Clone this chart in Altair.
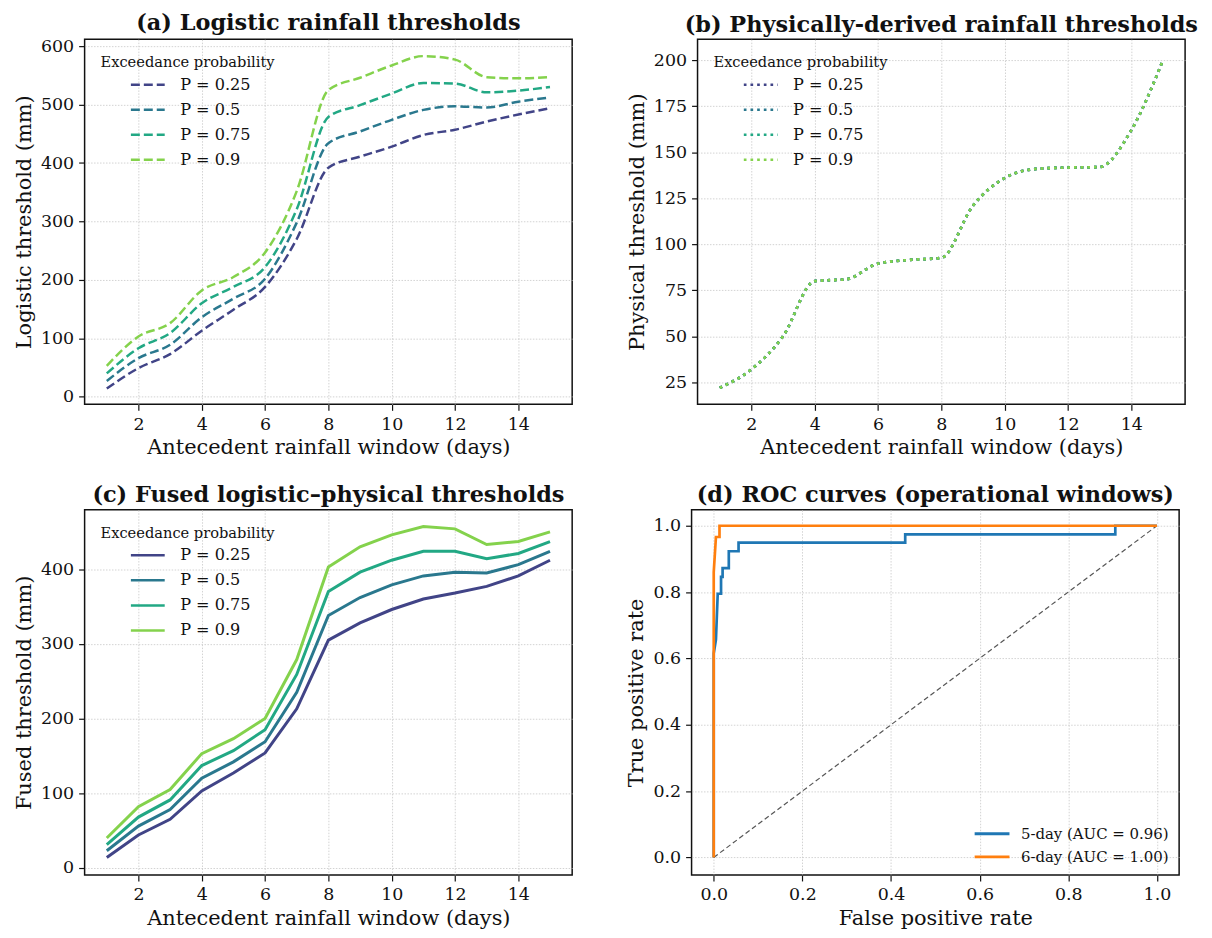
import altair as alt
import pandas as pd

FONT = "DejaVu Serif"

days = list(range(1, 16))
prob_labels = ["P = 0.25", "P = 0.5", "P = 0.75", "P = 0.9"]
prob_colors = ["#414487", "#2a788e", "#22a884", "#84d24c"]

# (a) logistic thresholds (mm)
logit_p25 = [14, 49, 73, 113, 149, 188, 270, 392, 411, 428, 448, 457, 471, 483, 494]
logit_p50 = [27, 66, 89, 136, 168, 202, 298, 434, 454, 474, 491, 497, 495, 505, 512]
logit_p75 = [40, 83, 109, 160, 188, 222, 321, 479, 499, 519, 537, 536, 521, 524, 530]
logit_p90 = [53, 103, 126, 182, 205, 247, 352, 525, 546, 567, 583, 577, 547, 545, 547]

# (b) physically-derived thresholds (mm) - identical for all probabilities
phys = [22, 32, 50, 80, 81, 89.5, 91.5, 92.6, 121, 136, 141, 141.7, 142, 162, 200]

# (c) fused thresholds (mm)
fused_p25 = [14, 44, 65, 103, 127, 154, 213, 305, 328, 346, 360, 368, 377, 391, 412]
fused_p50 = [23, 56, 78, 120, 142, 169, 235, 338, 362, 379, 391, 396, 395, 406, 424]
fused_p75 = [31, 68, 91, 137, 157, 185, 259, 370, 396, 412, 424, 424, 414, 421, 437]
fused_p90 = [40, 82, 105, 153, 173, 200, 279, 403, 430, 446, 457, 454, 433, 437, 450]

# (d) ROC curves
roc_labels = ["5-day (AUC = 0.96)", "6-day (AUC = 1.00)"]
roc_colors = ["#1f77b4", "#ff7f0e"]
fpr_5day = [0.0, 0.0, 0.005, 0.009, 0.0165, 0.0165, 0.02, 0.02, 0.034, 0.034, 0.056, 0.056, 0.432, 0.432, 0.906, 0.906, 1.0]
tpr_5day = [0.0, 0.615, 0.657, 0.795, 0.795, 0.846, 0.846, 0.872, 0.872, 0.923, 0.923, 0.949, 0.949, 0.974, 0.974, 1.0, 1.0]
fpr_6day = [0.0, 0.0, 0.005, 0.013, 0.013, 1.0]
tpr_6day = [0.0, 0.86, 0.966, 0.966, 1.0, 1.0]
chance_x = [0.0, 1.0]
chance_y = [0.0, 1.0]


def long_frame(series_list):
    rows = []
    for lab, vals in zip(prob_labels, series_list):
        for d, v in zip(days, vals):
            rows.append({"day": d, "value": v, "P": lab})
    return pd.DataFrame(rows)


df_a = long_frame([logit_p25, logit_p50, logit_p75, logit_p90])
df_b = long_frame([phys, phys, phys, phys])
df_c = long_frame([fused_p25, fused_p50, fused_p75, fused_p90])

roc_rows = []
for lab, fx, ty in zip(roc_labels, [fpr_5day, fpr_6day], [tpr_5day, tpr_6day]):
    for i, (a, b) in enumerate(zip(fx, ty)):
        roc_rows.append({"fpr": a, "tpr": b, "curve": lab, "i": i})
df_d = pd.DataFrame(roc_rows)
df_diag = pd.DataFrame({"fpr": chance_x, "tpr": chance_y})

W, H = 490, 367
TITLE_SIZE = 22.5


def ptitle(t):
    return alt.TitleParams(t, font=FONT, fontSize=TITLE_SIZE, fontWeight="bold",
                           anchor="middle", frame="group", offset=3, color="#111")


def prob_legend(dash):
    return alt.Legend(orient="top-left", offset=12, padding=4,
                      title="Exceedance probability", titleFont=FONT,
                      titleFontSize=14.7, titleFontWeight="normal", titleColor="#111",
                      titlePadding=7, labelFont=FONT, labelFontSize=16.2, labelColor="#111",
                      symbolType="stroke", symbolSize=1156, symbolStrokeWidth=2.5,
                      symbolDash=dash, symbolOffset=29, labelOffset=14,
                      clipHeight=16, rowPadding=8.2)


x_days = alt.X("day:Q", title="Antecedent rainfall window (days)",
               scale=alt.Scale(domain=[0.3, 15.7], nice=False, zero=False),
               axis=alt.Axis(values=[2, 4, 6, 8, 10, 12, 14], titlePadding=4))

color_prob = lambda dash: alt.Color("P:N", scale=alt.Scale(domain=prob_labels, range=prob_colors),
                                    legend=prob_legend(dash))

panel_a = alt.Chart(df_a).mark_line(strokeWidth=2.5, strokeDash=[9, 4], interpolate="monotone").encode(
    x=x_days,
    y=alt.Y("value:Q", title="Logistic threshold (mm)",
            scale=alt.Scale(domain=[-13, 612], nice=False, zero=False),
            axis=alt.Axis(values=[0, 100, 200, 300, 400, 500, 600], titlePadding=6)),
    color=color_prob([9, 4]),
).properties(width=W, height=H, title=ptitle("(a) Logistic rainfall thresholds"))

panel_b = alt.Chart(df_b).mark_line(strokeWidth=2.7, strokeDash=[2.7, 4], interpolate="monotone").encode(
    x=x_days,
    y=alt.Y("value:Q", title="Physical threshold (mm)",
            scale=alt.Scale(domain=[13, 211.5], nice=False, zero=False),
            axis=alt.Axis(values=[25, 50, 75, 100, 125, 150, 175, 200], titlePadding=6)),
    color=color_prob([2.7, 4]),
).properties(width=W, height=H, title=ptitle("(b) Physically-derived rainfall thresholds"))

panel_c = alt.Chart(df_c).mark_line(strokeWidth=3).encode(
    x=x_days,
    y=alt.Y("value:Q", title="Fused threshold (mm)",
            scale=alt.Scale(domain=[-9.5, 479.5], nice=False, zero=False),
            axis=alt.Axis(values=[0, 100, 200, 300, 400], titlePadding=6)),
    color=alt.Color("P:N", scale=alt.Scale(domain=prob_labels, range=prob_colors),
                    legend=prob_legend([1, 0])),
).properties(width=W, height=H, title=ptitle("(c) Fused logistic\u2013physical thresholds"))

rate_ticks = [0.0, 0.2, 0.4, 0.6, 0.8, 1.0]
x_roc = alt.X("fpr:Q", title="False positive rate",
              scale=alt.Scale(domain=[-0.05, 1.05], nice=False),
              axis=alt.Axis(values=rate_ticks, format=".1f", titlePadding=4))
y_roc = alt.Y("tpr:Q", title="True positive rate",
              scale=alt.Scale(domain=[-0.053, 1.048], nice=False),
              axis=alt.Axis(values=rate_ticks, format=".1f", titlePadding=6))

diag = alt.Chart(df_diag).mark_line(color="#555555", strokeWidth=1.2, strokeDash=[5, 3]).encode(
    x=x_roc, y=y_roc)
roc = alt.Chart(df_d).mark_line(strokeWidth=2.7).encode(
    x=x_roc, y=y_roc, order=alt.Order("i:Q"),
    color=alt.Color("curve:N", scale=alt.Scale(domain=roc_labels, range=roc_colors),
                    legend=alt.Legend(orient="bottom-right", offset=6, padding=4, title=None,
                                      labelFont=FONT, labelFontSize=15, labelColor="#111",
                                      symbolType="stroke", symbolSize=1225, symbolStrokeWidth=3,
                                      labelOffset=10, clipHeight=15, rowPadding=7.3)),
)
panel_d = alt.layer(diag, roc).properties(width=W, height=H,
                                          title=ptitle("(d) ROC curves (operational windows)"))

row1 = alt.hconcat(panel_a, panel_b, spacing=52).resolve_scale(color="independent")
row2 = alt.hconcat(panel_c, panel_d, spacing=52).resolve_scale(color="independent")

chart = alt.vconcat(row1, row2, spacing=24).resolve_scale(color="independent").properties(
    padding={"left": 4, "top": 0, "right": 5, "bottom": 5}
).configure(font=FONT).configure_axis(
    labelFont=FONT, labelFontSize=17.5, labelColor="#111", labelPadding=5,
    titleFont=FONT, titleFontSize=21, titleFontWeight="normal", titleColor="#111",
    tickColor="#111", tickSize=6, tickWidth=1.2, domain=False,
    gridColor="#c8c8c8", gridDash=[1.5, 1.5], gridWidth=0.8,
).configure_view(stroke="#111", strokeWidth=1.5)

chart.save("out.html", embed_options={"renderer": "svg", "actions": False})
